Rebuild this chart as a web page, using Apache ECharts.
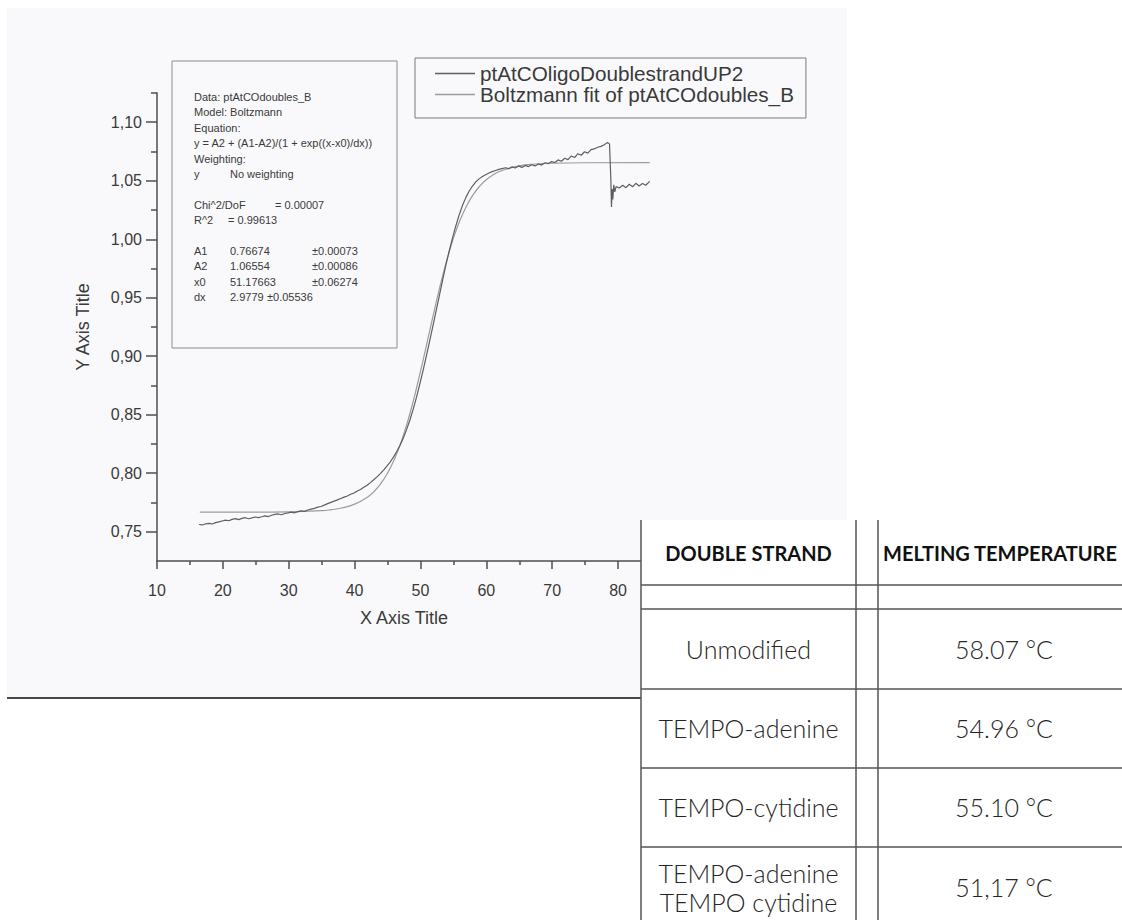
<!DOCTYPE html>
<html>
<head>
<meta charset="utf-8">
<script src="https://cdn.jsdelivr.net/npm/echarts@6/dist/echarts.min.js"></script>
<style>
  html, body { margin: 0; padding: 0; background: #ffffff; }
  #chart { width: 1122px; height: 920px; }
</style>
</head>
<body>
<div id="chart"></div>
<script>
// ---- Melting curve: absorbance vs temperature ----
const dataName = 'ptAtCOligoDoublestrandUP2';
const fitName = 'Boltzmann fit of ptAtCOdoubles_B';

const dataX = [
  16.4, 16.9, 17.4, 17.9, 18.4, 18.9, 19.4, 19.9, 20.4, 20.9,
  21.4, 21.9, 22.4, 22.9, 23.4, 23.9, 24.4, 24.9, 25.4, 25.9,
  26.4, 26.9, 27.4, 27.9, 28.4, 28.9, 29.4, 29.9, 30.4, 30.9,
  31.4, 31.9, 32.4, 32.9, 33.4, 33.9, 34.4, 34.9, 35.4, 35.9,
  36.4, 36.9, 37.4, 37.9, 38.4, 38.9, 39.4, 39.9, 40.4, 40.9,
  41.4, 41.9, 42.4, 42.9, 43.4, 43.9, 44.4, 44.9, 45.4, 45.9,
  46.4, 46.9, 47.4, 47.9, 48.4, 48.9, 49.4, 49.9, 50.4, 50.9,
  51.4, 51.9, 52.4, 52.9, 53.4, 53.9, 54.4, 54.9, 55.4, 55.9,
  56.4, 56.9, 57.4, 57.9, 58.4, 58.9, 59.4, 59.9, 60.4, 60.9,
  61.4, 61.9, 62.4, 62.9, 63.4, 63.9, 64.4, 64.9, 65.4, 65.9,
  66.4, 66.9, 67.4, 67.9, 68.4, 68.9, 69.4, 69.9, 70.4, 70.9,
  71.4, 71.9, 72.4, 72.9, 73.4, 73.9, 74.4, 74.9, 75.4, 75.9,
  76.4, 76.9, 77.4, 77.9, 78.4, 78.7, 78.9, 79.0, 79.1, 79.2,
  79.35, 79.5, 79.7, 80.2, 80.7, 81.2, 81.7, 82.2, 82.7, 83.2,
  83.7, 84.2, 84.8
];
const dataY = [
  0.7562, 0.7558, 0.7568, 0.7572, 0.7566, 0.7578, 0.7584, 0.7592, 0.7600, 0.7594,
  0.7606, 0.7612, 0.7604, 0.7614, 0.7620, 0.7611, 0.7618, 0.7626, 0.7621, 0.7628,
  0.7636, 0.7630, 0.7641, 0.7648, 0.7652, 0.7645, 0.7656, 0.7661, 0.7668, 0.7662,
  0.7672, 0.7679, 0.7674, 0.7686, 0.7694, 0.7700, 0.7710, 0.7716, 0.7728, 0.7740,
  0.7751, 0.7762, 0.7772, 0.7784, 0.7796, 0.7806, 0.7820, 0.7831, 0.7848, 0.7861,
  0.7880, 0.7897, 0.7920, 0.7944, 0.7969, 0.7997, 0.8027, 0.8060, 0.8096, 0.8138,
  0.8186, 0.8240, 0.8302, 0.8375, 0.8455, 0.8548, 0.8650, 0.8762, 0.8880, 0.9004,
  0.9132, 0.9262, 0.9394, 0.9527, 0.9662, 0.9790, 0.9908, 1.0018, 1.0120, 1.0212,
  1.0292, 1.0358, 1.0412, 1.0455, 1.0490, 1.0516, 1.0536, 1.0552, 1.0566, 1.0578,
  1.0588, 1.0597, 1.0604, 1.0611, 1.0603, 1.0619, 1.0609, 1.0627, 1.0614, 1.0631,
  1.0621, 1.0637, 1.0627, 1.0644, 1.0634, 1.0654, 1.0646, 1.0664, 1.0656, 1.0678,
  1.0667, 1.0692, 1.0681, 1.0712, 1.0698, 1.0731, 1.0718, 1.0748, 1.0736, 1.0766,
  1.0772, 1.0786, 1.0794, 1.0808, 1.0828, 1.0815, 1.0520, 1.0275, 1.0430, 1.0340,
  1.0465, 1.0405, 1.0450, 1.0438, 1.0462, 1.0441, 1.0470, 1.0449, 1.0478, 1.0455,
  1.0476, 1.0462, 1.0495
];

// Boltzmann fit curve samples
const fitX = [16.5, 25, 30, 35, 36.5, 38, 40, 42, 43, 44, 45, 46, 47, 48, 49, 50, 51, 52,
  53, 54, 55, 56, 57, 58, 59, 60, 61, 62, 65, 67.5, 70, 75, 84.8];
const fitY = [0.7668, 0.7668, 0.7670, 0.7680, 0.7689, 0.7703, 0.7736, 0.7798, 0.7847, 0.7913,
  0.8001, 0.8114, 0.8257, 0.8432, 0.8638, 0.8870, 0.9117, 0.9367, 0.9605, 0.9821, 1.0007,
  1.0162, 1.0285, 1.0381, 1.0454, 1.0509, 1.0549, 1.0579, 1.0627, 1.0643, 1.0650, 1.0654, 1.0655];

// Axis ticks and labels
const xMajor = [10, 20, 30, 40, 50, 60, 70, 80];
const xMinor = [15, 25, 35, 45, 55, 65, 75];
const yMajor = [0.75, 0.80, 0.85, 0.90, 0.95, 1.00, 1.05, 1.10];
const yMinor = [0.775, 0.825, 0.875, 0.925, 0.975, 1.025, 1.075, 1.125];

// Fit report
const fitHeader = ['Data: ptAtCOdoubles_B', 'Model: Boltzmann', 'Equation:',
  'y = A2 + (A1-A2)/(1 + exp((x-x0)/dx))', 'Weighting:'];
const weightingRow = ['y', 'No weighting'];
const chiRow = ['Chi^2/DoF', '= 0.00007'];
const r2Row = ['R^2', '= 0.99613'];
const paramNames = ['A1', 'A2', 'x0', 'dx'];
const paramValues = ['0.76674', '1.06554', '51.17663', '2.9779'];
const paramErrors = ['±0.00073', '±0.00086', '±0.06274', '±0.05536'];

// Melting temperature table
const tableHeaders = ['DOUBLE STRAND', 'MELTING TEMPERATURE'];
const strands = ['Unmodified', 'TEMPO-adenine', 'TEMPO-cytidine', 'TEMPO-adenine\nTEMPO cytidine'];
const meltingTemps = ['58.07 °C', '54.96 °C', '55.10 °C', '51,17 °C'];

// ---- build ----
const zip = (xs, ys) => xs.map((x, i) => [x, ys[i]]);
const AXIS = '#4e4e4e';
const TXT = '#3a3a3a';
const ARIAL = '"Liberation Sans", Arial, sans-serif';

const graphics = [];

// scanned sheet
graphics.push({ type: 'rect', z: -10, silent: true,
  shape: { x: 7, y: 8, width: 840, height: 689 },
  style: { fill: '#f9f9fb' } });
graphics.push({ type: 'line', z: -9, silent: true,
  shape: { x1: 7, y1: 698, x2: 641, y2: 698 },
  style: { stroke: '#4a4a4a', lineWidth: 2 } });

// fit report box
graphics.push({ type: 'rect', z: 5, silent: true,
  shape: { x: 172, y: 61, width: 225, height: 287 },
  style: { fill: 'none', stroke: '#8c8c8c', lineWidth: 1 } });
const rowY = i => 97 + i * 15.4;
const reportText = (txt, x, row) => ({ type: 'text', z: 5, silent: true, x: x, y: rowY(row),
  style: { text: txt, fill: TXT, font: '11px ' + ARIAL, verticalAlign: 'middle' } });
fitHeader.forEach((t, i) => graphics.push(reportText(t, 194, i)));
graphics.push(reportText(weightingRow[0], 194, 5));
graphics.push(reportText(weightingRow[1], 230, 5));
graphics.push(reportText(chiRow[0], 194, 7));
graphics.push(reportText(chiRow[1], 275, 7));
graphics.push(reportText(r2Row[0], 194, 8));
graphics.push(reportText(r2Row[1], 228, 8));
paramNames.forEach((p, i) => {
  graphics.push(reportText(p, 194, 10 + i));
  graphics.push(reportText(paramValues[i], 230, 10 + i));
  graphics.push(reportText(paramErrors[i], i === 3 ? 267 : 312, 10 + i));
});

// table
const T = { left: 641, right: 1130, top: 520, bottom: 930, col1: 856, col2: 878 };
const hLines = [585, 609, 689, 768, 847];
const rowCenters = [649, 728, 807, 887];
graphics.push({ type: 'rect', z: 100, silent: true,
  shape: { x: T.left, y: T.top, width: T.right - T.left, height: T.bottom - T.top },
  style: { fill: '#ffffff' } });
[T.left, T.col1, T.col2].forEach(x => graphics.push({ type: 'line', z: 101, silent: true,
  shape: { x1: x, y1: T.top, x2: x, y2: T.bottom },
  style: { stroke: '#555555', lineWidth: 1.5 } }));
hLines.forEach(y => graphics.push({ type: 'line', z: 101, silent: true,
  shape: { x1: T.left, y1: y, x2: T.right, y2: y },
  style: { stroke: '#555555', lineWidth: 1.5 } }));
graphics.push({ type: 'text', z: 102, silent: true, x: (T.left + T.col1) / 2, y: 553,
  style: { text: tableHeaders[0], fill: '#111111', font: 'bold 20px Lato, sans-serif',
    align: 'center', verticalAlign: 'middle' } });
graphics.push({ type: 'text', z: 102, silent: true, x: 883, y: 553,
  style: { text: tableHeaders[1], fill: '#111111', font: 'bold 20px Lato, sans-serif',
    align: 'left', verticalAlign: 'middle' } });
strands.forEach((s, i) => {
  graphics.push({ type: 'text', z: 102, silent: true, x: (T.left + T.col1) / 2, y: rowCenters[i],
    style: { text: s, fill: '#262626', font: '300 25px Lato, sans-serif', lineHeight: 29,
      align: 'center', verticalAlign: 'middle' } });
  graphics.push({ type: 'text', z: 102, silent: true, x: 1004, y: rowCenters[i],
    style: { text: meltingTemps[i], fill: '#262626', font: '300 25px Lato, sans-serif',
      align: 'center', verticalAlign: 'middle' } });
});

const chart = echarts.init(document.getElementById('chart'), null, { renderer: 'svg' });
chart.setOption({
  animation: false,
  backgroundColor: '#ffffff',
  grid: { left: 157, top: 93, width: 494, height: 468, containLabel: false },
  legend: {
    left: 415, top: 58, orient: 'vertical',
    padding: [5, 12, 13, 20], itemGap: 0, itemWidth: 40, itemHeight: 1.5,
    icon: 'rect', borderColor: '#7a7a7a', borderWidth: 1,
    textStyle: { fontFamily: ARIAL, fontSize: 20.7, color: TXT, lineHeight: 20 },
    data: [dataName, fitName]
  },
  xAxis: [
    {
      type: 'value', min: 10, max: 85, interval: 10, position: 'bottom',
      axisLine: { show: true, onZero: false, lineStyle: { color: AXIS, width: 1.5 } },
      axisTick: { show: true, customValues: xMajor, length: 8, lineStyle: { color: AXIS, width: 1.5 } },
      axisLabel: { customValues: xMajor, margin: 21, fontSize: 16, color: TXT, fontFamily: ARIAL },
      splitLine: { show: false },
      name: 'X Axis Title', nameLocation: 'middle', nameGap: 48,
      nameTextStyle: { fontSize: 18, color: TXT, fontFamily: ARIAL }
    },
    {
      type: 'value', min: 10, max: 85, interval: 10, position: 'bottom',
      axisLine: { show: false },
      axisTick: { show: true, customValues: xMinor, length: 4, lineStyle: { color: AXIS, width: 1.5 } },
      axisLabel: { show: false }, splitLine: { show: false }
    }
  ],
  yAxis: [
    {
      type: 'value', min: 0.725, max: 1.125, interval: 0.025, position: 'left',
      axisLine: { show: true, onZero: false, lineStyle: { color: AXIS, width: 1.5 } },
      axisTick: { show: true, customValues: yMajor, length: 11, lineStyle: { color: AXIS, width: 1.5 } },
      axisLabel: { customValues: yMajor, margin: 15, fontSize: 16, color: TXT, fontFamily: ARIAL,
        formatter: v => v.toFixed(2).replace('.', ',') },
      splitLine: { show: false },
      name: 'Y Axis Title', nameLocation: 'middle', nameGap: 65, nameRotate: 90,
      nameTextStyle: { fontSize: 18, color: TXT, fontFamily: ARIAL }
    },
    {
      type: 'value', min: 0.725, max: 1.125, interval: 0.025, position: 'left',
      axisLine: { show: false },
      axisTick: { show: true, customValues: yMinor, length: 6, lineStyle: { color: AXIS, width: 1.5 } },
      axisLabel: { show: false }, splitLine: { show: false }
    }
  ],
  series: [
    {
      name: dataName, type: 'line', xAxisIndex: 0, yAxisIndex: 0,
      data: zip(dataX, dataY), symbol: 'none', showSymbol: false, z: 3,
      lineStyle: { color: '#5e5e5e', width: 1.2 }, itemStyle: { color: '#5e5e5e' }
    },
    {
      name: fitName, type: 'line', xAxisIndex: 0, yAxisIndex: 0,
      data: zip(fitX, fitY), symbol: 'none', showSymbol: false, smooth: true, z: 2,
      lineStyle: { color: '#9c9c9c', width: 1.2 }, itemStyle: { color: '#9c9c9c' }
    }
  ],
  graphic: graphics
});
</script>
</body>
</html>
